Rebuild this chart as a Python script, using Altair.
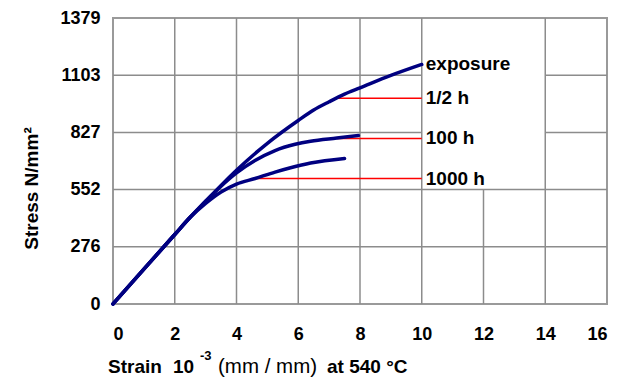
import altair as alt
import pandas as pd

# Stress-strain curves at 540 °C after different exposure times
half_h_strain = [0, 1, 2, 2.5, 3, 3.5, 4, 5, 6, 6.5, 7, 7.5, 8, 9, 10]
half_h_stress = [0, 168, 335, 418, 495, 572, 645, 775, 885, 935, 975, 1012, 1042, 1102, 1155]
h100_strain = [0, 1, 2, 2.5, 3, 3.5, 4, 4.6, 5.25, 5.9, 6.4, 7.25, 7.95]
h100_stress = [0, 168, 335, 418, 495, 568, 632, 692, 740, 770, 785, 800, 812]
h1000_strain = [0, 1, 2, 2.5, 3, 3.5, 4, 4.6, 5.25, 5.75, 6.4, 7.5]
h1000_stress = [0, 168, 335, 418, 485, 540, 578, 605, 636, 657, 680, 702]

# Leader lines from each curve to its label
leader_names = ["1/2 h", "100 h", "1000 h"]
leader_start = [7.2, 7.25, 4.6]
leader_end = [10, 10, 10]
leader_stress = [992, 798, 605]

label_text = ["exposure", "1/2 h", "100 h", "1000 h"]
label_strain = [10, 10, 10, 10]
label_stress = [1155, 992, 798, 605]

# Axis ticks
x_ticks = [0, 2, 4, 6, 8, 10, 12, 14, 16]
y_ticks = [0, 276, 552, 827, 1103, 1379]

# Grid segments (left open behind the labels)
vgrid_x = [2, 4, 6, 8, 10, 12, 14]
vgrid_top = [1379, 1379, 1379, 1379, 1379, 552, 1379]
hgrid_y = [276, 552, 827, 827, 1103, 1103]
hgrid_from = [0, 0, 0, 14, 0, 14]
hgrid_to = [16, 16, 10, 16, 10, 16]

curves = pd.concat([
    pd.DataFrame({"strain": half_h_strain, "stress": half_h_stress, "series": "1/2 h"}),
    pd.DataFrame({"strain": h100_strain, "stress": h100_stress, "series": "100 h"}),
    pd.DataFrame({"strain": h1000_strain, "stress": h1000_stress, "series": "1000 h"}),
])
leaders = pd.DataFrame({"name": leader_names, "x0": leader_start, "x1": leader_end,
                        "stress": leader_stress})
labels = pd.DataFrame({"text": label_text, "strain": label_strain, "stress": label_stress})
vgrid = pd.DataFrame({"x": vgrid_x, "y0": [0] * len(vgrid_x), "y1": vgrid_top})
hgrid = pd.DataFrame({"y": hgrid_y, "x0": hgrid_from, "x1": hgrid_to})

FONT = "Liberation Sans"
GRID = "#8c8c8c"

xs = alt.Scale(domain=[0, 16], nice=False)
ys = alt.Scale(domain=[0, 1379], nice=False)

x_axis = alt.Axis(values=x_ticks, format="d", grid=False, domain=False, ticks=False,
                  labelFont=FONT, labelFontSize=18, labelFontWeight="bold",
                  labelColor="black", labelPadding=21, title=None)
y_axis = alt.Axis(values=y_ticks, format="d", grid=False, domain=False, ticks=False,
                  labelFont=FONT, labelFontSize=18, labelFontWeight="bold",
                  labelColor="black", labelPadding=13,
                  title="Stress N/mm²", titleFont=FONT, titleFontSize=19,
                  titleFontWeight="bold", titleColor="black", titleAngle=270,
                  titleAlign="center", titleBaseline="middle",
                  titleX=-82, titleY=170)

vlines = alt.Chart(vgrid).mark_rule(color=GRID, strokeWidth=1.5).encode(
    x=alt.X("x:Q", scale=xs, axis=x_axis),
    y=alt.Y("y0:Q", scale=ys, axis=y_axis),
    y2="y1:Q",
)
hlines = alt.Chart(hgrid).mark_rule(color=GRID, strokeWidth=1.5).encode(
    x=alt.X("x0:Q", scale=xs),
    x2="x1:Q",
    y=alt.Y("y:Q", scale=ys),
)
leader_lines = alt.Chart(leaders).mark_rule(color="#ff0000", strokeWidth=1.5).encode(
    x=alt.X("x0:Q", scale=xs),
    x2="x1:Q",
    y=alt.Y("stress:Q", scale=ys),
)
lines = alt.Chart(curves).mark_line(
    color="#000080", strokeWidth=3.5, interpolate="monotone", strokeCap="round"
).encode(
    x=alt.X("strain:Q", scale=xs),
    y=alt.Y("stress:Q", scale=ys),
    detail="series:N",
)
curve_labels = alt.Chart(labels).mark_text(
    align="left", baseline="middle", dx=4, font=FONT, fontSize=19,
    fontWeight="bold", color="black"
).encode(
    x=alt.X("strain:Q", scale=xs),
    y=alt.Y("stress:Q", scale=ys),
    text="text:N",
)


def title_piece(text, x, y, size=19, weight="bold"):
    return alt.Chart(pd.DataFrame({"t": [text]})).mark_text(
        align="left", baseline="alphabetic", font=FONT, fontSize=size,
        fontWeight=weight, color="black"
    ).encode(x=alt.value(x), y=alt.value(y), text="t:N")


x_title = [
    title_piece("Strain", -5, 355),
    title_piece("10", 60, 355),
    title_piece("-3", 87, 342, size=13),
    title_piece("(mm / mm)", 105, 355, size=20.5, weight="normal"),
    title_piece("at 540 °C", 214, 355),
]

chart = alt.layer(vlines, hlines, leader_lines, lines, curve_labels, *x_title).properties(
    width=494,
    height=286,
    autosize="none",
    padding={"left": 113, "top": 18, "right": 22, "bottom": 75},
    background="white",
).configure_view(stroke="#9a9a9a", strokeWidth=2)

chart.save("out.html", embed_options={"renderer": "svg", "actions": False})
